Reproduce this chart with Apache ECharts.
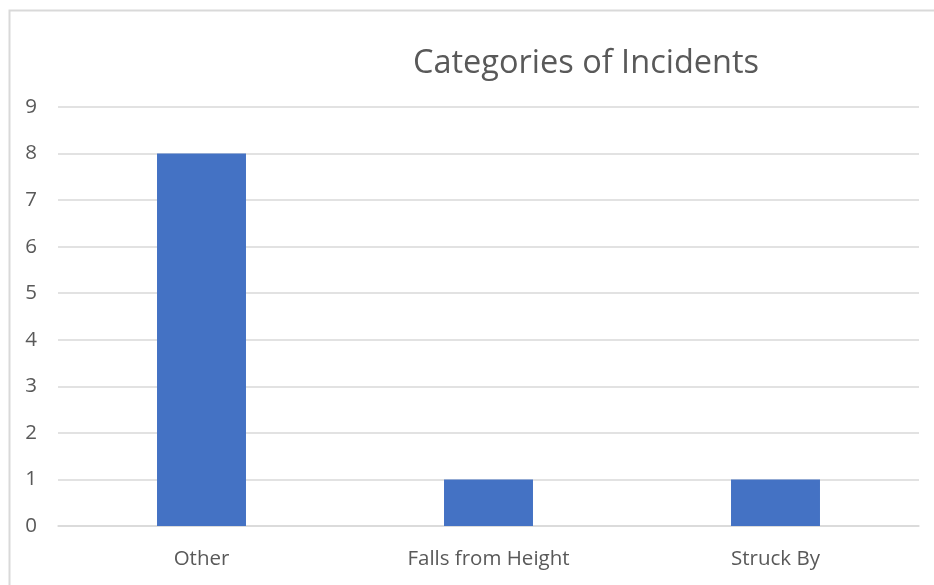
<!DOCTYPE html>
<html>
<head>
<meta charset="utf-8">
<script src="https://cdn.jsdelivr.net/npm/echarts@6/dist/echarts.min.js"></script>
<style>
  html, body { margin: 0; padding: 0; background: #fff; }
  #chart { width: 934px; height: 585px; }
</style>
</head>
<body>
<div id="chart"></div>
<script>
const categories = ['Other', 'Falls from Height', 'Struck By']
const counts = [8, 1, 1]
const yTicks = { min: 0, max: 9, interval: 1 }

const chart = echarts.init(document.getElementById('chart'))
const option = {
  animation: false,
  backgroundColor: '#fff',
  textStyle: { fontFamily: 'Open Sans' },
  graphic: [{
    type: 'rect',
    left: 7,
    top: 8,
    shape: { width: 960, height: 620 },
    style: { fill: 'none', stroke: '#d9d9d9', lineWidth: 2 },
    silent: true
  }],
  title: {
    text: 'Categories of Incidents',
    left: 581,
    top: 42,
    textAlign: 'center',
    textStyle: { color: '#595959', fontSize: 32.5, fontWeight: 'normal', fontFamily: 'Open Sans' }
  },
  grid: { left: 58, right: 15, top: 107, bottom: 59, containLabel: false },
  xAxis: {
    type: 'category',
    data: categories,
    axisTick: { show: false },
    axisLine: { lineStyle: { color: '#d9d9d9', width: 1.5 } },
    axisLabel: { color: '#595959', fontSize: 20.5, margin: 23 }
  },
  yAxis: {
    type: 'value',
    min: yTicks.min,
    max: yTicks.max,
    interval: yTicks.interval,
    axisLine: { show: false },
    axisTick: { show: false },
    axisLabel: { color: '#595959', fontSize: 20.5, margin: 21 },
    splitLine: { lineStyle: { color: '#d9d9d9', width: 1.5 } }
  },
  series: [{
    type: 'bar',
    data: counts,
    barWidth: '31%',
    itemStyle: { color: '#4472C4' }
  }]
}
chart.setOption(option)
</script>
</body>
</html>
